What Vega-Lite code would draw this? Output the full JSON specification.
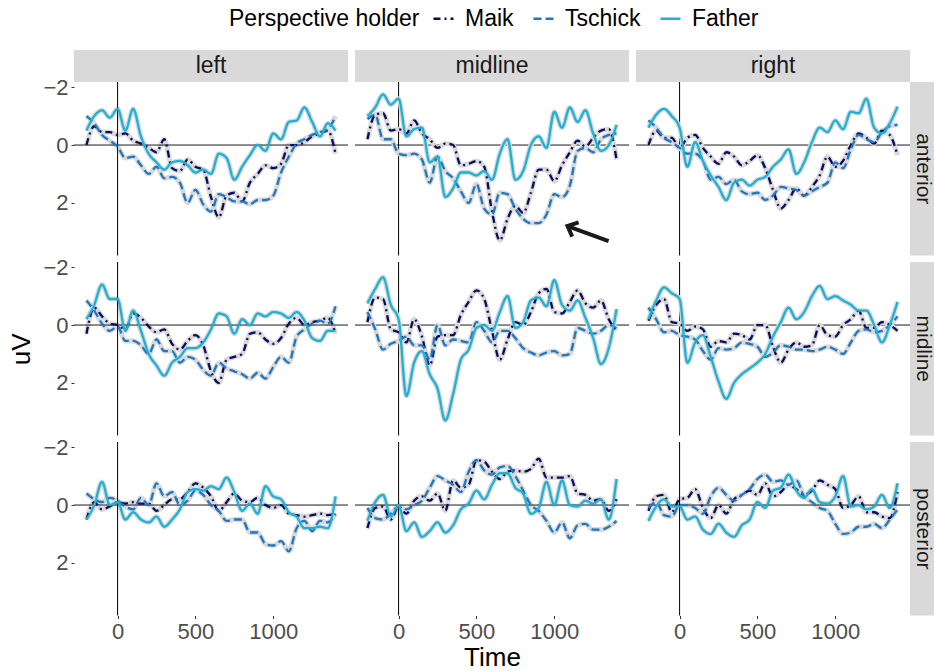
{
  "$schema": "https://vega.github.io/schema/vega-lite/v6.json",
  "background": "white",
  "padding": {"left": 8, "top": 7, "right": 0, "bottom": 0},
  "datasets": {
    "la": [
      {"t":-200,"Maik":0,"Tschick":-1,"Father":-0.5},{"t":-150,"Maik":-0.65,"Tschick":-0.75,"Father":-1},{"t":-100,"Maik":-0.45,"Tschick":-0.35,"Father":-1.2},{"t":-50,"Maik":-0.45,"Tschick":-0.15,"Father":-0.95},{"t":0,"Maik":-0.35,"Tschick":0.05,"Father":-1.25},{"t":50,"Maik":-0.4,"Tschick":0.45,"Father":-0.5},{"t":100,"Maik":-0.15,"Tschick":0.4,"Father":-1.25},{"t":150,"Maik":-0.05,"Tschick":0.7,"Father":-0.3},{"t":200,"Maik":0.1,"Tschick":1,"Father":0.3},{"t":250,"Maik":0.25,"Tschick":0.75,"Father":0.6},{"t":300,"Maik":-0.2,"Tschick":1.15,"Father":0.85},{"t":350,"Maik":0.8,"Tschick":1.1,"Father":0.6},{"t":400,"Maik":0.9,"Tschick":1.3,"Father":0.55},{"t":450,"Maik":0.5,"Tschick":2,"Father":0.7},{"t":500,"Maik":0.75,"Tschick":1.55,"Father":0.95},{"t":550,"Maik":0.85,"Tschick":2.05,"Father":0.85},{"t":600,"Maik":1.8,"Tschick":2.3,"Father":1},{"t":650,"Maik":2.5,"Tschick":1.7,"Father":0.3},{"t":700,"Maik":1.75,"Tschick":1.8,"Father":0.45},{"t":750,"Maik":1.65,"Tschick":1.95,"Father":1.2},{"t":800,"Maik":1.95,"Tschick":1.95,"Father":0.75},{"t":850,"Maik":1.3,"Tschick":2.05,"Father":0.35},{"t":900,"Maik":1,"Tschick":1.9,"Father":0},{"t":950,"Maik":0.7,"Tschick":1.9,"Father":0.2},{"t":1000,"Maik":0.8,"Tschick":1.75,"Father":-0.4},{"t":1050,"Maik":0.65,"Tschick":0.95,"Father":-0.2},{"t":1100,"Maik":0,"Tschick":0.4,"Father":-0.8},{"t":1150,"Maik":0,"Tschick":-0.05,"Father":-0.85},{"t":1200,"Maik":-0.1,"Tschick":-0.2,"Father":-1.3},{"t":1250,"Maik":-0.3,"Tschick":-0.35,"Father":-0.8},{"t":1300,"Maik":-0.4,"Tschick":-0.45,"Father":-0.3},{"t":1350,"Maik":-0.5,"Tschick":-0.55,"Father":-0.75},{"t":1400,"Maik":0.3,"Tschick":-1,"Father":-0.5}
    ],
    "ma": [
      {"t":-200,"Maik":-0.2,"Tschick":-0.9,"Father":-1},{"t":-150,"Maik":-1.05,"Tschick":-1.05,"Father":-1.3},{"t":-100,"Maik":-1.1,"Tschick":-0.2,"Father":-1.75},{"t":-50,"Maik":-0.5,"Tschick":-0.2,"Father":-1.4},{"t":0,"Maik":-0.55,"Tschick":0.3,"Father":-1.6},{"t":50,"Maik":-0.4,"Tschick":0.35,"Father":-0.3},{"t":100,"Maik":-0.85,"Tschick":0.3,"Father":-0.55},{"t":150,"Maik":-0.4,"Tschick":0.5,"Father":-0.6},{"t":200,"Maik":-0.2,"Tschick":1.3,"Father":0.6},{"t":250,"Maik":0.1,"Tschick":0.4,"Father":0.4},{"t":300,"Maik":-0.05,"Tschick":0.9,"Father":1.8},{"t":350,"Maik":0,"Tschick":1.15,"Father":1.5},{"t":400,"Maik":0.7,"Tschick":1.6,"Father":0.95},{"t":450,"Maik":0.65,"Tschick":2,"Father":0.95},{"t":500,"Maik":0.55,"Tschick":1.35,"Father":1.05},{"t":550,"Maik":0.75,"Tschick":2.2,"Father":0.9},{"t":600,"Maik":2.3,"Tschick":2.4,"Father":1.2},{"t":650,"Maik":3.3,"Tschick":1.65,"Father":0.3},{"t":700,"Maik":2.55,"Tschick":1.7,"Father":-0.2},{"t":750,"Maik":2.1,"Tschick":2.2,"Father":1.2},{"t":800,"Maik":2.35,"Tschick":2.55,"Father":0.9},{"t":850,"Maik":1.65,"Tschick":2.7,"Father":0},{"t":900,"Maik":0.85,"Tschick":2.7,"Father":-0.3},{"t":950,"Maik":0.85,"Tschick":2.4,"Father":0.1},{"t":1000,"Maik":1.25,"Tschick":1.7,"Father":-1.15},{"t":1050,"Maik":0.7,"Tschick":1.8,"Father":-0.6},{"t":1100,"Maik":0.25,"Tschick":1.4,"Father":-1.3},{"t":1150,"Maik":-0.15,"Tschick":0.2,"Father":-0.8},{"t":1200,"Maik":0.05,"Tschick":0.1,"Father":-1.2},{"t":1250,"Maik":-0.25,"Tschick":0.25,"Father":-0.4},{"t":1300,"Maik":-0.5,"Tschick":-0.2,"Father":0.2},{"t":1350,"Maik":-0.55,"Tschick":-0.35,"Father":0},{"t":1400,"Maik":0.5,"Tschick":-0.4,"Father":-0.7}
    ],
    "ra": [
      {"t":-200,"Maik":0,"Tschick":-0.85,"Father":-0.6},{"t":-150,"Maik":-0.5,"Tschick":-0.6,"Father":-1.05},{"t":-100,"Maik":-0.25,"Tschick":-0.25,"Father":-1.25},{"t":-50,"Maik":-0.25,"Tschick":-0.1,"Father":-1},{"t":0,"Maik":0.1,"Tschick":0.1,"Father":-0.6},{"t":50,"Maik":-0.25,"Tschick":0.3,"Father":0.75},{"t":100,"Maik":-0.35,"Tschick":0.3,"Father":-0.1},{"t":150,"Maik":0.1,"Tschick":0.55,"Father":0.55},{"t":200,"Maik":0.4,"Tschick":1.2,"Father":1.05},{"t":250,"Maik":0.65,"Tschick":1.1,"Father":1.45},{"t":300,"Maik":0.25,"Tschick":1.35,"Father":1.9},{"t":350,"Maik":0.4,"Tschick":1.2,"Father":1.3},{"t":400,"Maik":0.7,"Tschick":1.6,"Father":1.2},{"t":450,"Maik":0.55,"Tschick":1.7,"Father":1.4},{"t":500,"Maik":0.35,"Tschick":1.65,"Father":1.2},{"t":550,"Maik":0.8,"Tschick":1.9,"Father":1.1},{"t":600,"Maik":1.55,"Tschick":1.75,"Father":0.75},{"t":650,"Maik":2.2,"Tschick":1.45,"Father":0.5},{"t":700,"Maik":1.9,"Tschick":1.5,"Father":0.15},{"t":750,"Maik":1.5,"Tschick":1.55,"Father":1},{"t":800,"Maik":1.75,"Tschick":1.75,"Father":0.6},{"t":850,"Maik":1.45,"Tschick":1.6,"Father":-0.1},{"t":900,"Maik":1.05,"Tschick":1.45,"Father":-0.6},{"t":950,"Maik":0.4,"Tschick":1.3,"Father":-0.45},{"t":1000,"Maik":0.75,"Tschick":0.6,"Father":-0.85},{"t":1050,"Maik":0.55,"Tschick":0.8,"Father":-0.55},{"t":1100,"Maik":0,"Tschick":0.15,"Father":-1.15},{"t":1150,"Maik":-0.4,"Tschick":-0.35,"Father":-1.1},{"t":1200,"Maik":-0.25,"Tschick":-0.2,"Father":-1.6},{"t":1250,"Maik":-0.05,"Tschick":-0.1,"Father":-0.6},{"t":1300,"Maik":-0.5,"Tschick":-0.45,"Father":-0.4},{"t":1350,"Maik":-0.35,"Tschick":-0.65,"Father":-0.75},{"t":1400,"Maik":0.35,"Tschick":-0.7,"Father":-1.33}
    ],
    "lm": [
      {"t":-200,"Maik":0.3,"Tschick":-0.85,"Father":-0.2},{"t":-150,"Maik":-0.6,"Tschick":-0.5,"Father":-0.7},{"t":-100,"Maik":-0.3,"Tschick":-0.05,"Father":-1.4},{"t":-50,"Maik":-0.05,"Tschick":0.2,"Father":-0.9},{"t":0,"Maik":0,"Tschick":0.05,"Father":-0.9},{"t":50,"Maik":0.15,"Tschick":0.55,"Father":0.2},{"t":100,"Maik":-0.4,"Tschick":0.55,"Father":-0.5},{"t":150,"Maik":-0.25,"Tschick":0.7,"Father":0.2},{"t":200,"Maik":0.05,"Tschick":1,"Father":1},{"t":250,"Maik":0.25,"Tschick":0.5,"Father":1.4},{"t":300,"Maik":0.15,"Tschick":0.9,"Father":1.75},{"t":350,"Maik":0.65,"Tschick":0.9,"Father":1.3},{"t":400,"Maik":0.85,"Tschick":1.3,"Father":1.1},{"t":450,"Maik":0.55,"Tschick":1.1,"Father":0.8},{"t":500,"Maik":0.35,"Tschick":1.2,"Father":0.8},{"t":550,"Maik":0.7,"Tschick":1.55,"Father":0.6},{"t":600,"Maik":1.6,"Tschick":1.75,"Father":0.15},{"t":650,"Maik":2,"Tschick":1.3,"Father":-0.4},{"t":700,"Maik":1.2,"Tschick":1.5,"Father":-0.3},{"t":750,"Maik":1.1,"Tschick":1.6,"Father":0.3},{"t":800,"Maik":1,"Tschick":1.7,"Father":-0.2},{"t":850,"Maik":0.3,"Tschick":1.85,"Father":0},{"t":900,"Maik":0.25,"Tschick":1.65,"Father":-0.4},{"t":950,"Maik":0.5,"Tschick":1.85,"Father":-0.3},{"t":1000,"Maik":0.65,"Tschick":1.45,"Father":-0.45},{"t":1050,"Maik":0.45,"Tschick":1.1,"Father":-0.4},{"t":1100,"Maik":-0.05,"Tschick":1.3,"Father":-0.25},{"t":1150,"Maik":-0.25,"Tschick":0.4,"Father":-0.45},{"t":1200,"Maik":0,"Tschick":0.15,"Father":-0.15},{"t":1250,"Maik":-0.1,"Tschick":-0.05,"Father":0.45},{"t":1300,"Maik":-0.15,"Tschick":-0.15,"Father":0.55},{"t":1350,"Maik":-0.25,"Tschick":-0.05,"Father":0.2},{"t":1400,"Maik":0.3,"Tschick":-0.65,"Father":0.2}
    ],
    "mm": [
      {"t":-200,"Maik":-0.1,"Tschick":-0.45,"Father":-0.75},{"t":-150,"Maik":-0.95,"Tschick":0.15,"Father":-1.25},{"t":-100,"Maik":-0.9,"Tschick":0.85,"Father":-1.65},{"t":-50,"Maik":0.15,"Tschick":0.65,"Father":-0.7},{"t":0,"Maik":0.25,"Tschick":0.55,"Father":-0.2},{"t":50,"Maik":0.6,"Tschick":0.4,"Father":2.45},{"t":100,"Maik":-0.2,"Tschick":0.7,"Father":1.3},{"t":150,"Maik":0.4,"Tschick":0.7,"Father":0.9},{"t":200,"Maik":1.4,"Tschick":1.2,"Father":1.7},{"t":250,"Maik":0.4,"Tschick":0,"Father":2.2},{"t":300,"Maik":0.35,"Tschick":0.7,"Father":3.3},{"t":350,"Maik":0.35,"Tschick":0.5,"Father":2.4},{"t":400,"Maik":-0.35,"Tschick":0.55,"Father":1.2},{"t":450,"Maik":-0.8,"Tschick":0.6,"Father":0.85},{"t":500,"Maik":-1.2,"Tschick":-0.1,"Father":0.1},{"t":550,"Maik":-0.9,"Tschick":0.2,"Father":0},{"t":600,"Maik":0.2,"Tschick":0.6,"Father":0.2},{"t":650,"Maik":1.2,"Tschick":0.2,"Father":-0.45},{"t":700,"Maik":0.5,"Tschick":0.2,"Father":-1},{"t":750,"Maik":-0.1,"Tschick":0.45,"Father":0.1},{"t":800,"Maik":0,"Tschick":0.8,"Father":-0.1},{"t":850,"Maik":-0.45,"Tschick":0.95,"Father":-0.85},{"t":900,"Maik":-1.1,"Tschick":1.05,"Father":-0.95},{"t":950,"Maik":-1.25,"Tschick":0.95,"Father":-0.65},{"t":1000,"Maik":-0.45,"Tschick":0.9,"Father":-1.55},{"t":1050,"Maik":-0.4,"Tschick":1.05,"Father":-0.7},{"t":1100,"Maik":-0.8,"Tschick":1,"Father":-0.5},{"t":1150,"Maik":-1.2,"Tschick":0.1,"Father":-0.85},{"t":1200,"Maik":-0.75,"Tschick":0.2,"Father":-0.25},{"t":1250,"Maik":-0.6,"Tschick":0.3,"Father":0.45},{"t":1300,"Maik":-0.85,"Tschick":0.2,"Father":1.35},{"t":1350,"Maik":-0.2,"Tschick":0,"Father":0.8},{"t":1400,"Maik":0.2,"Tschick":0.1,"Father":-0.55}
    ],
    "rm": [
      {"t":-200,"Maik":-0.15,"Tschick":-0.6,"Father":-0.2},{"t":-150,"Maik":-0.7,"Tschick":-0.2,"Father":-0.85},{"t":-100,"Maik":-0.9,"Tschick":0.25,"Father":-1.3},{"t":-50,"Maik":-0.1,"Tschick":0.2,"Father":-1.1},{"t":0,"Maik":-0.05,"Tschick":0.35,"Father":-0.9},{"t":50,"Maik":0.2,"Tschick":0.4,"Father":1.3},{"t":100,"Maik":0.05,"Tschick":0.5,"Father":0.6},{"t":150,"Maik":0.15,"Tschick":0.9,"Father":0.35},{"t":200,"Maik":0.75,"Tschick":1.2,"Father":1.1},{"t":250,"Maik":0.55,"Tschick":0.8,"Father":1.95},{"t":300,"Maik":0.6,"Tschick":0.85,"Father":2.55},{"t":350,"Maik":0.3,"Tschick":0.8,"Father":2},{"t":400,"Maik":0.35,"Tschick":0.6,"Father":1.7},{"t":450,"Maik":0.5,"Tschick":0.65,"Father":1.5},{"t":500,"Maik":0,"Tschick":0.75,"Father":1.3},{"t":550,"Maik":0,"Tschick":1.1,"Father":1},{"t":600,"Maik":0.75,"Tschick":0.95,"Father":0.4},{"t":650,"Maik":1.3,"Tschick":0.7,"Father":-0.1},{"t":700,"Maik":0.85,"Tschick":0.75,"Father":-0.6},{"t":750,"Maik":0.6,"Tschick":0.85,"Father":-0.2},{"t":800,"Maik":0.75,"Tschick":0.85,"Father":-0.45},{"t":850,"Maik":0.7,"Tschick":0.9,"Father":-1},{"t":900,"Maik":0,"Tschick":0.85,"Father":-1.35},{"t":950,"Maik":0.35,"Tschick":0.75,"Father":-0.9},{"t":1000,"Maik":0.4,"Tschick":0.85,"Father":-1},{"t":1050,"Maik":0,"Tschick":1,"Father":-0.85},{"t":1100,"Maik":-0.2,"Tschick":0.6,"Father":-0.7},{"t":1150,"Maik":-0.5,"Tschick":0.2,"Father":-0.5},{"t":1200,"Maik":0.1,"Tschick":0.15,"Father":-0.5},{"t":1250,"Maik":0.1,"Tschick":0.25,"Father":0},{"t":1300,"Maik":-0.1,"Tschick":0.2,"Father":0.6},{"t":1350,"Maik":0,"Tschick":0,"Father":0},{"t":1400,"Maik":0.2,"Tschick":-0.3,"Father":-0.8}
    ],
    "lp": [
      {"t":-200,"Maik":0.5,"Tschick":-0.4,"Father":0.5},{"t":-150,"Maik":-0.1,"Tschick":-0.2,"Father":0},{"t":-100,"Maik":0.15,"Tschick":-0.1,"Father":-0.8},{"t":-50,"Maik":0.05,"Tschick":-0.25,"Father":0},{"t":0,"Maik":-0.1,"Tschick":-0.15,"Father":-0.1},{"t":50,"Maik":-0.05,"Tschick":0.05,"Father":0.5},{"t":100,"Maik":-0.1,"Tschick":0.15,"Father":0.25},{"t":150,"Maik":-0.05,"Tschick":-0.25,"Father":0.5},{"t":200,"Maik":-0.05,"Tschick":0,"Father":0.6},{"t":250,"Maik":0.2,"Tschick":-0.75,"Father":0.4},{"t":300,"Maik":0,"Tschick":-0.3,"Father":0.75},{"t":350,"Maik":-0.2,"Tschick":-0.45,"Father":0.5},{"t":400,"Maik":-0.2,"Tschick":0,"Father":0.15},{"t":450,"Maik":-0.45,"Tschick":-0.15,"Father":-0.45},{"t":500,"Maik":-0.75,"Tschick":-0.5,"Father":-0.55},{"t":550,"Maik":-0.6,"Tschick":-0.35,"Father":-0.5},{"t":600,"Maik":-0.3,"Tschick":0,"Father":-0.65},{"t":650,"Maik":0.2,"Tschick":0.2,"Father":-0.55},{"t":700,"Maik":-0.1,"Tschick":0.55,"Father":-0.95},{"t":750,"Maik":-0.4,"Tschick":0.5,"Father":-0.45},{"t":800,"Maik":-0.15,"Tschick":0.5,"Father":0.2},{"t":850,"Maik":-0.1,"Tschick":0.95,"Father":-0.05},{"t":900,"Maik":-0.25,"Tschick":0.95,"Father":0.3},{"t":950,"Maik":0,"Tschick":1.35,"Father":-0.65},{"t":1000,"Maik":0.1,"Tschick":1.4,"Father":-0.3},{"t":1050,"Maik":0,"Tschick":1.25,"Father":-0.2},{"t":1100,"Maik":0.3,"Tschick":1.6,"Father":0.25},{"t":1150,"Maik":0.35,"Tschick":0.8,"Father":0.4},{"t":1200,"Maik":0.4,"Tschick":0.55,"Father":0.8},{"t":1250,"Maik":0.35,"Tschick":0.9,"Father":0.8},{"t":1300,"Maik":0.3,"Tschick":0.55,"Father":0.75},{"t":1350,"Maik":0.35,"Tschick":0.6,"Father":0.8},{"t":1400,"Maik":0.3,"Tschick":0.3,"Father":-0.3}
    ],
    "mp": [
      {"t":-200,"Maik":0.8,"Tschick":0.1,"Father":0.55},{"t":-150,"Maik":0.1,"Tschick":0.45,"Father":-0.1},{"t":-100,"Maik":0.05,"Tschick":0.5,"Father":-0.35},{"t":-50,"Maik":0.5,"Tschick":0.3,"Father":0.4},{"t":0,"Maik":0.05,"Tschick":0.05,"Father":0},{"t":50,"Maik":0.3,"Tschick":0.15,"Father":0.9},{"t":100,"Maik":-0.15,"Tschick":0,"Father":0.6},{"t":150,"Maik":-0.3,"Tschick":-0.15,"Father":1.1},{"t":200,"Maik":-0.15,"Tschick":-0.6,"Father":0.9},{"t":250,"Maik":-0.4,"Tschick":-1,"Father":0.6},{"t":300,"Maik":0.2,"Tschick":-0.85,"Father":0.95},{"t":350,"Maik":-0.85,"Tschick":-0.7,"Father":0.7},{"t":400,"Maik":-0.6,"Tschick":-0.45,"Father":0.15},{"t":450,"Maik":-0.7,"Tschick":-1.15,"Father":-0.05},{"t":500,"Maik":-1.55,"Tschick":-1.55,"Father":-0.5},{"t":550,"Maik":-1.5,"Tschick":-1.2,"Father":-0.2},{"t":600,"Maik":-1.15,"Tschick":-1.05,"Father":-0.7},{"t":650,"Maik":-0.9,"Tschick":-1.3,"Father":-1.1},{"t":700,"Maik":-1.15,"Tschick":-1.35,"Father":-1.1},{"t":750,"Maik":-1.2,"Tschick":-1,"Father":-0.6},{"t":800,"Maik":-1.15,"Tschick":-0.5,"Father":-0.4},{"t":850,"Maik":-1.25,"Tschick":0,"Father":0.3},{"t":900,"Maik":-1.6,"Tschick":0.2,"Father":0.1},{"t":950,"Maik":-0.95,"Tschick":0.55,"Father":-0.8},{"t":1000,"Maik":-0.95,"Tschick":0.95,"Father":0},{"t":1050,"Maik":-0.95,"Tschick":0.6,"Father":-0.85},{"t":1100,"Maik":-1,"Tschick":1.15,"Father":0},{"t":1150,"Maik":-0.4,"Tschick":0.7,"Father":0.05},{"t":1200,"Maik":-0.35,"Tschick":0.65,"Father":-0.15},{"t":1250,"Maik":-0.15,"Tschick":0.85,"Father":-0.05},{"t":1300,"Maik":-0.2,"Tschick":0.85,"Father":-0.2},{"t":1350,"Maik":0.2,"Tschick":0.75,"Father":0.5},{"t":1400,"Maik":-0.2,"Tschick":0.55,"Father":-0.9}
    ],
    "rp": [
      {"t":-200,"Maik":0.2,"Tschick":0.1,"Father":0.55},{"t":-150,"Maik":-0.3,"Tschick":-0.1,"Father":0.05},{"t":-100,"Maik":-0.35,"Tschick":0.35,"Father":-0.2},{"t":-50,"Maik":0.25,"Tschick":0.4,"Father":0.05},{"t":0,"Maik":-0.2,"Tschick":0,"Father":0.05},{"t":50,"Maik":-0.25,"Tschick":0,"Father":0.5},{"t":100,"Maik":-0.55,"Tschick":0.1,"Father":0.4},{"t":150,"Maik":0.1,"Tschick":0.3,"Father":0.85},{"t":200,"Maik":0.45,"Tschick":-0.3,"Father":1},{"t":250,"Maik":0,"Tschick":-0.6,"Father":0.65},{"t":300,"Maik":0.3,"Tschick":-0.35,"Father":0.95},{"t":350,"Maik":-0.2,"Tschick":-0.15,"Father":1.1},{"t":400,"Maik":-0.35,"Tschick":-0.35,"Father":0.7},{"t":450,"Maik":-0.5,"Tschick":-0.55,"Father":0.5},{"t":500,"Maik":-0.35,"Tschick":-0.9,"Father":-0.1},{"t":550,"Maik":-0.75,"Tschick":-1.05,"Father":0.1},{"t":600,"Maik":-0.3,"Tschick":-0.8,"Father":-0.5},{"t":650,"Maik":-0.45,"Tschick":-0.85,"Father":-0.6},{"t":700,"Maik":-0.7,"Tschick":-0.7,"Father":-1.05},{"t":750,"Maik":-0.55,"Tschick":-0.85,"Father":-0.5},{"t":800,"Maik":-0.35,"Tschick":-0.3,"Father":-0.25},{"t":850,"Maik":-0.5,"Tschick":-0.1,"Father":-0.55},{"t":900,"Maik":-0.85,"Tschick":0.1,"Father":-0.1},{"t":950,"Maik":-0.7,"Tschick":0.2,"Father":-0.05},{"t":1000,"Maik":-0.55,"Tschick":0.65,"Father":-0.3},{"t":1050,"Maik":0.1,"Tschick":1,"Father":-1},{"t":1100,"Maik":0,"Tschick":0.95,"Father":0.05},{"t":1150,"Maik":-0.3,"Tschick":0.75,"Father":0},{"t":1200,"Maik":0.25,"Tschick":0.75,"Father":0.15},{"t":1250,"Maik":0.25,"Tschick":0.65,"Father":0.05},{"t":1300,"Maik":0.4,"Tschick":0.8,"Father":-0.35},{"t":1350,"Maik":0.45,"Tschick":0.5,"Father":0.1},{"t":1400,"Maik":-0.45,"Tschick":0.15,"Father":-0.75}
    ]
  },
  "columns": 4,
  "spacing": 0,
  "bounds": "flush",
  "align": "each",
  "resolve": {"scale": {"x": "independent", "y": "independent", "color": "shared", "strokeDash": "shared"}},
  "concat": [
    {"width": 274, "height": 32, "view": {"fill": "#d9d9d9", "stroke": null}, "data": {"values": [{"l": "left"}]}, "mark": {"type": "text", "fontSize": 23, "color": "#1a1a1a"}, "encoding": {"text": {"field": "l", "type": "nominal"}}},
    {"width": 274, "height": 32, "view": {"fill": "#d9d9d9", "stroke": null}, "data": {"values": [{"l": "midline"}]}, "mark": {"type": "text", "fontSize": 23, "color": "#1a1a1a"}, "encoding": {"text": {"field": "l", "type": "nominal"}}},
    {"width": 274, "height": 32, "view": {"fill": "#d9d9d9", "stroke": null}, "data": {"values": [{"l": "right"}]}, "mark": {"type": "text", "fontSize": 23, "color": "#1a1a1a"}, "encoding": {"text": {"field": "l", "type": "nominal"}}},
    {"width": 26, "height": 32, "data": {"values": [{"l": ""}]}, "mark": {"type": "text"}, "encoding": {"text": {"field": "l", "type": "nominal"}}},

    {"width": 280.5, "height": 180, "data": {"name": "la"}, "layer": [
      {"transform": [{"fold": ["Maik", "Tschick", "Father"], "as": ["Perspective holder", "uV"]}], "mark": {"type": "line", "strokeWidth": 5, "color": "#d9d9d9", "interpolate": "monotone"}, "encoding": {"x": {"field": "t", "type": "quantitative", "scale": {"domain": [-280, 1480], "range": [0, 274], "nice": false, "zero": false}, "axis": null}, "y": {"field": "uV", "type": "quantitative", "scale": {"domain": [-2.18, 3.82], "range": [0, 173.5], "nice": false, "zero": false}, "axis": {"values": [-2, 0, 2], "format": "d", "title": null}}, "detail": {"field": "Perspective holder"}}},
      {"data": {"values": [{"z": 0}]}, "mark": {"type": "rule", "color": "#1a1a1a", "strokeWidth": 1}, "encoding": {"y": {"field": "z", "type": "quantitative"}, "x": {"datum": -280, "type": "quantitative", "axis": null}, "x2": {"datum": 1480}}},
      {"data": {"values": [{"z": 0}]}, "mark": {"type": "rule", "color": "#000000", "strokeWidth": 1}, "encoding": {"x": {"field": "z", "type": "quantitative", "axis": null}, "y": {"datum": -2.18, "type": "quantitative"}, "y2": {"datum": 3.82}}},
      {"transform": [{"fold": ["Maik", "Tschick", "Father"], "as": ["Perspective holder", "uV"]}], "mark": {"type": "line", "strokeWidth": 2.3, "interpolate": "monotone"}, "encoding": {"x": {"field": "t", "type": "quantitative", "axis": null}, "y": {"field": "uV", "type": "quantitative"}, "color": {"field": "Perspective holder", "type": "nominal", "scale": {"domain": ["Maik", "Tschick", "Father"], "range": ["#0b0b5e", "#1f78c1", "#1cb2d6"]}, "legend": {"orient": "none", "legendX": 155, "legendY": -43}}, "strokeDash": {"field": "Perspective holder", "type": "nominal", "scale": {"domain": ["Maik", "Tschick", "Father"], "range": [[7, 4, 2, 4], [8, 4], [1, 0]]}, "legend": {"orient": "none", "legendX": 155, "legendY": -43}}}}
    ]},
    {"width": 280.5, "height": 180, "data": {"name": "ma"}, "layer": [
      {"data": {"values": [{"z": 0}]}, "mark": {"type": "rule", "color": "#1a1a1a", "strokeWidth": 1}, "encoding": {"y": {"field": "z", "type": "quantitative", "axis": null}, "x": {"datum": -280, "type": "quantitative", "axis": null}, "x2": {"datum": 1480}}},
      {"data": {"values": [{"z": 0}]}, "mark": {"type": "rule", "color": "#000000", "strokeWidth": 1}, "encoding": {"x": {"field": "z", "type": "quantitative", "axis": null}, "y": {"datum": -2.18, "type": "quantitative", "axis": null}, "y2": {"datum": 3.82}}},
      {"transform": [{"fold": ["Maik", "Tschick", "Father"], "as": ["Perspective holder", "uV"]}], "mark": {"type": "line", "strokeWidth": 5, "color": "#d9d9d9", "interpolate": "monotone"}, "encoding": {"x": {"field": "t", "type": "quantitative", "scale": {"domain": [-280, 1480], "range": [0, 274], "nice": false, "zero": false}, "axis": null}, "y": {"field": "uV", "type": "quantitative", "scale": {"domain": [-2.18, 3.82], "range": [0, 173.5], "nice": false, "zero": false}, "axis": null}, "detail": {"field": "Perspective holder"}}},
      {"transform": [{"fold": ["Maik", "Tschick", "Father"], "as": ["Perspective holder", "uV"]}], "mark": {"type": "line", "strokeWidth": 2.3, "interpolate": "monotone"}, "encoding": {"x": {"field": "t", "type": "quantitative", "axis": null}, "y": {"field": "uV", "type": "quantitative", "axis": null}, "color": {"field": "Perspective holder", "type": "nominal"}, "strokeDash": {"field": "Perspective holder", "type": "nominal"}}},
      {"data": {"values": [{"t": 1349, "v": 3.32, "t2": 1085, "v2": 2.8}]}, "mark": {"type": "rule", "color": "#1a1a1a", "strokeWidth": 4}, "encoding": {"x": {"field": "t", "type": "quantitative", "axis": null}, "y": {"field": "v", "type": "quantitative", "axis": null}, "x2": {"field": "t2"}, "y2": {"field": "v2"}}},
      {"data": {"values": [{"t": 1349, "v": 3.32, "t2": 1085, "v2": 2.8}]}, "mark": {"type": "point", "shape": "M -1 -0.9 L 0 0 L -1 0.9", "filled": false, "color": "#1a1a1a", "strokeWidth": 4, "size": 300, "angle": 204, "opacity": 1}, "encoding": {"x": {"field": "t2", "type": "quantitative", "axis": null}, "y": {"field": "v2", "type": "quantitative", "axis": null}}}
    ]},
    {"width": 274, "height": 180, "data": {"name": "ra"}, "layer": [
      {"data": {"values": [{"z": 0}]}, "mark": {"type": "rule", "color": "#1a1a1a", "strokeWidth": 1}, "encoding": {"y": {"field": "z", "type": "quantitative", "axis": null}, "x": {"datum": -280, "type": "quantitative", "axis": null}, "x2": {"datum": 1480}}},
      {"data": {"values": [{"z": 0}]}, "mark": {"type": "rule", "color": "#000000", "strokeWidth": 1}, "encoding": {"x": {"field": "z", "type": "quantitative", "axis": null}, "y": {"datum": -2.18, "type": "quantitative", "axis": null}, "y2": {"datum": 3.82}}},
      {"transform": [{"fold": ["Maik", "Tschick", "Father"], "as": ["Perspective holder", "uV"]}], "mark": {"type": "line", "strokeWidth": 5, "color": "#d9d9d9", "interpolate": "monotone"}, "encoding": {"x": {"field": "t", "type": "quantitative", "scale": {"domain": [-280, 1480], "range": [0, 274], "nice": false, "zero": false}, "axis": null}, "y": {"field": "uV", "type": "quantitative", "scale": {"domain": [-2.18, 3.82], "range": [0, 173.5], "nice": false, "zero": false}, "axis": null}, "detail": {"field": "Perspective holder"}}},
      {"transform": [{"fold": ["Maik", "Tschick", "Father"], "as": ["Perspective holder", "uV"]}], "mark": {"type": "line", "strokeWidth": 2.3, "interpolate": "monotone"}, "encoding": {"x": {"field": "t", "type": "quantitative", "axis": null}, "y": {"field": "uV", "type": "quantitative", "axis": null}, "color": {"field": "Perspective holder", "type": "nominal"}, "strokeDash": {"field": "Perspective holder", "type": "nominal"}}}
    ]},
    {"width": 26, "height": 173.5, "view": {"fill": "#d9d9d9", "stroke": null}, "data": {"values": [{"l": "anterior"}]}, "mark": {"type": "text", "fontSize": 21, "color": "#1a1a1a", "angle": 90}, "encoding": {"text": {"field": "l", "type": "nominal"}}},

    {"width": 280.5, "height": 180, "data": {"name": "lm"}, "layer": [
      {"transform": [{"fold": ["Maik", "Tschick", "Father"], "as": ["Perspective holder", "uV"]}], "mark": {"type": "line", "strokeWidth": 5, "color": "#d9d9d9", "interpolate": "monotone"}, "encoding": {"x": {"field": "t", "type": "quantitative", "scale": {"domain": [-280, 1480], "range": [0, 274], "nice": false, "zero": false}, "axis": null}, "y": {"field": "uV", "type": "quantitative", "scale": {"domain": [-2.18, 3.82], "range": [0, 173.5], "nice": false, "zero": false}, "axis": {"values": [-2, 0, 2], "format": "d", "title": "uV"}}, "detail": {"field": "Perspective holder"}}},
      {"data": {"values": [{"z": 0}]}, "mark": {"type": "rule", "color": "#1a1a1a", "strokeWidth": 1}, "encoding": {"y": {"field": "z", "type": "quantitative"}, "x": {"datum": -280, "type": "quantitative", "axis": null}, "x2": {"datum": 1480}}},
      {"data": {"values": [{"z": 0}]}, "mark": {"type": "rule", "color": "#000000", "strokeWidth": 1}, "encoding": {"x": {"field": "z", "type": "quantitative", "axis": null}, "y": {"datum": -2.18, "type": "quantitative"}, "y2": {"datum": 3.82}}},
      {"transform": [{"fold": ["Maik", "Tschick", "Father"], "as": ["Perspective holder", "uV"]}], "mark": {"type": "line", "strokeWidth": 2.3, "interpolate": "monotone"}, "encoding": {"x": {"field": "t", "type": "quantitative", "axis": null}, "y": {"field": "uV", "type": "quantitative"}, "color": {"field": "Perspective holder", "type": "nominal"}, "strokeDash": {"field": "Perspective holder", "type": "nominal"}}}
    ]},
    {"width": 280.5, "height": 180, "data": {"name": "mm"}, "layer": [
      {"data": {"values": [{"z": 0}]}, "mark": {"type": "rule", "color": "#1a1a1a", "strokeWidth": 1}, "encoding": {"y": {"field": "z", "type": "quantitative", "axis": null}, "x": {"datum": -280, "type": "quantitative", "axis": null}, "x2": {"datum": 1480}}},
      {"data": {"values": [{"z": 0}]}, "mark": {"type": "rule", "color": "#000000", "strokeWidth": 1}, "encoding": {"x": {"field": "z", "type": "quantitative", "axis": null}, "y": {"datum": -2.18, "type": "quantitative", "axis": null}, "y2": {"datum": 3.82}}},
      {"transform": [{"fold": ["Maik", "Tschick", "Father"], "as": ["Perspective holder", "uV"]}], "mark": {"type": "line", "strokeWidth": 5, "color": "#d9d9d9", "interpolate": "monotone"}, "encoding": {"x": {"field": "t", "type": "quantitative", "scale": {"domain": [-280, 1480], "range": [0, 274], "nice": false, "zero": false}, "axis": null}, "y": {"field": "uV", "type": "quantitative", "scale": {"domain": [-2.18, 3.82], "range": [0, 173.5], "nice": false, "zero": false}, "axis": null}, "detail": {"field": "Perspective holder"}}},
      {"transform": [{"fold": ["Maik", "Tschick", "Father"], "as": ["Perspective holder", "uV"]}], "mark": {"type": "line", "strokeWidth": 2.3, "interpolate": "monotone"}, "encoding": {"x": {"field": "t", "type": "quantitative", "axis": null}, "y": {"field": "uV", "type": "quantitative", "axis": null}, "color": {"field": "Perspective holder", "type": "nominal"}, "strokeDash": {"field": "Perspective holder", "type": "nominal"}}}
    ]},
    {"width": 274, "height": 180, "data": {"name": "rm"}, "layer": [
      {"data": {"values": [{"z": 0}]}, "mark": {"type": "rule", "color": "#1a1a1a", "strokeWidth": 1}, "encoding": {"y": {"field": "z", "type": "quantitative", "axis": null}, "x": {"datum": -280, "type": "quantitative", "axis": null}, "x2": {"datum": 1480}}},
      {"data": {"values": [{"z": 0}]}, "mark": {"type": "rule", "color": "#000000", "strokeWidth": 1}, "encoding": {"x": {"field": "z", "type": "quantitative", "axis": null}, "y": {"datum": -2.18, "type": "quantitative", "axis": null}, "y2": {"datum": 3.82}}},
      {"transform": [{"fold": ["Maik", "Tschick", "Father"], "as": ["Perspective holder", "uV"]}], "mark": {"type": "line", "strokeWidth": 5, "color": "#d9d9d9", "interpolate": "monotone"}, "encoding": {"x": {"field": "t", "type": "quantitative", "scale": {"domain": [-280, 1480], "range": [0, 274], "nice": false, "zero": false}, "axis": null}, "y": {"field": "uV", "type": "quantitative", "scale": {"domain": [-2.18, 3.82], "range": [0, 173.5], "nice": false, "zero": false}, "axis": null}, "detail": {"field": "Perspective holder"}}},
      {"transform": [{"fold": ["Maik", "Tschick", "Father"], "as": ["Perspective holder", "uV"]}], "mark": {"type": "line", "strokeWidth": 2.3, "interpolate": "monotone"}, "encoding": {"x": {"field": "t", "type": "quantitative", "axis": null}, "y": {"field": "uV", "type": "quantitative", "axis": null}, "color": {"field": "Perspective holder", "type": "nominal"}, "strokeDash": {"field": "Perspective holder", "type": "nominal"}}}
    ]},
    {"width": 26, "height": 173.5, "view": {"fill": "#d9d9d9", "stroke": null}, "data": {"values": [{"l": "midline"}]}, "mark": {"type": "text", "fontSize": 21, "color": "#1a1a1a", "angle": 90}, "encoding": {"text": {"field": "l", "type": "nominal"}}},

    {"width": 280.5, "height": 173.5, "data": {"name": "lp"}, "layer": [
      {"transform": [{"fold": ["Maik", "Tschick", "Father"], "as": ["Perspective holder", "uV"]}], "mark": {"type": "line", "strokeWidth": 5, "color": "#d9d9d9", "interpolate": "monotone"}, "encoding": {"x": {"field": "t", "type": "quantitative", "scale": {"domain": [-280, 1480], "range": [0, 274], "nice": false, "zero": false}, "axis": {"values": [0, 500, 1000], "format": "d", "title": null}}, "y": {"field": "uV", "type": "quantitative", "scale": {"domain": [-2.18, 3.82], "range": [0, 173.5], "nice": false, "zero": false}, "axis": {"values": [-2, 0, 2], "format": "d", "title": null}}, "detail": {"field": "Perspective holder"}}},
      {"data": {"values": [{"z": 0}]}, "mark": {"type": "rule", "color": "#1a1a1a", "strokeWidth": 1}, "encoding": {"y": {"field": "z", "type": "quantitative"}, "x": {"datum": -280, "type": "quantitative"}, "x2": {"datum": 1480}}},
      {"data": {"values": [{"z": 0}]}, "mark": {"type": "rule", "color": "#000000", "strokeWidth": 1}, "encoding": {"x": {"field": "z", "type": "quantitative"}, "y": {"datum": -2.18, "type": "quantitative"}, "y2": {"datum": 3.82}}},
      {"transform": [{"fold": ["Maik", "Tschick", "Father"], "as": ["Perspective holder", "uV"]}], "mark": {"type": "line", "strokeWidth": 2.3, "interpolate": "monotone"}, "encoding": {"x": {"field": "t", "type": "quantitative"}, "y": {"field": "uV", "type": "quantitative"}, "color": {"field": "Perspective holder", "type": "nominal"}, "strokeDash": {"field": "Perspective holder", "type": "nominal"}}}
    ]},
    {"width": 280.5, "height": 173.5, "data": {"name": "mp"}, "layer": [
      {"transform": [{"fold": ["Maik", "Tschick", "Father"], "as": ["Perspective holder", "uV"]}], "mark": {"type": "line", "strokeWidth": 5, "color": "#d9d9d9", "interpolate": "monotone"}, "encoding": {"x": {"field": "t", "type": "quantitative", "scale": {"domain": [-280, 1480], "range": [0, 274], "nice": false, "zero": false}, "axis": {"values": [0, 500, 1000], "format": "d", "title": "Time"}}, "y": {"field": "uV", "type": "quantitative", "scale": {"domain": [-2.18, 3.82], "range": [0, 173.5], "nice": false, "zero": false}, "axis": null}, "detail": {"field": "Perspective holder"}}},
      {"data": {"values": [{"z": 0}]}, "mark": {"type": "rule", "color": "#1a1a1a", "strokeWidth": 1}, "encoding": {"y": {"field": "z", "type": "quantitative", "axis": null}, "x": {"datum": -280, "type": "quantitative"}, "x2": {"datum": 1480}}},
      {"data": {"values": [{"z": 0}]}, "mark": {"type": "rule", "color": "#000000", "strokeWidth": 1}, "encoding": {"x": {"field": "z", "type": "quantitative"}, "y": {"datum": -2.18, "type": "quantitative", "axis": null}, "y2": {"datum": 3.82}}},
      {"transform": [{"fold": ["Maik", "Tschick", "Father"], "as": ["Perspective holder", "uV"]}], "mark": {"type": "line", "strokeWidth": 2.3, "interpolate": "monotone"}, "encoding": {"x": {"field": "t", "type": "quantitative"}, "y": {"field": "uV", "type": "quantitative", "axis": null}, "color": {"field": "Perspective holder", "type": "nominal"}, "strokeDash": {"field": "Perspective holder", "type": "nominal"}}}
    ]},
    {"width": 274, "height": 173.5, "data": {"name": "rp"}, "layer": [
      {"transform": [{"fold": ["Maik", "Tschick", "Father"], "as": ["Perspective holder", "uV"]}], "mark": {"type": "line", "strokeWidth": 5, "color": "#d9d9d9", "interpolate": "monotone"}, "encoding": {"x": {"field": "t", "type": "quantitative", "scale": {"domain": [-280, 1480], "range": [0, 274], "nice": false, "zero": false}, "axis": {"values": [0, 500, 1000], "format": "d", "title": null}}, "y": {"field": "uV", "type": "quantitative", "scale": {"domain": [-2.18, 3.82], "range": [0, 173.5], "nice": false, "zero": false}, "axis": null}, "detail": {"field": "Perspective holder"}}},
      {"data": {"values": [{"z": 0}]}, "mark": {"type": "rule", "color": "#1a1a1a", "strokeWidth": 1}, "encoding": {"y": {"field": "z", "type": "quantitative", "axis": null}, "x": {"datum": -280, "type": "quantitative"}, "x2": {"datum": 1480}}},
      {"data": {"values": [{"z": 0}]}, "mark": {"type": "rule", "color": "#000000", "strokeWidth": 1}, "encoding": {"x": {"field": "z", "type": "quantitative"}, "y": {"datum": -2.18, "type": "quantitative", "axis": null}, "y2": {"datum": 3.82}}},
      {"transform": [{"fold": ["Maik", "Tschick", "Father"], "as": ["Perspective holder", "uV"]}], "mark": {"type": "line", "strokeWidth": 2.3, "interpolate": "monotone"}, "encoding": {"x": {"field": "t", "type": "quantitative"}, "y": {"field": "uV", "type": "quantitative", "axis": null}, "color": {"field": "Perspective holder", "type": "nominal"}, "strokeDash": {"field": "Perspective holder", "type": "nominal"}}}
    ]},
    {"width": 26, "height": 173.5, "view": {"fill": "#d9d9d9", "stroke": null}, "data": {"values": [{"l": "posterior"}]}, "mark": {"type": "text", "fontSize": 21, "color": "#1a1a1a", "angle": 90}, "encoding": {"text": {"field": "l", "type": "nominal"}}}
  ],
  "config": {
    "font": "Liberation Sans",
    "view": {"stroke": null},
    "axis": {"domain": false, "grid": false, "ticks": true, "tickSize": 3, "tickColor": "#333333", "tickWidth": 1, "labelFontSize": 22, "labelColor": "#4d4d4d", "labelPadding": 3, "titleFontSize": 26, "titleFontWeight": "normal", "titleColor": "#000000"},
    "axisY": {"titlePadding": 8},
    "axisX": {"titlePadding": 2},
    "legend": {"direction": "horizontal", "titleOrient": "left", "titleLimit": 400, "titleFontSize": 23, "titleFontWeight": "normal", "titleColor": "#000000", "labelFontSize": 23, "labelColor": "#000000", "symbolType": "stroke", "symbolSize": 400, "symbolStrokeWidth": 2.3, "columnPadding": 14, "labelOffset": 10, "titlePadding": 12}
  }
}
